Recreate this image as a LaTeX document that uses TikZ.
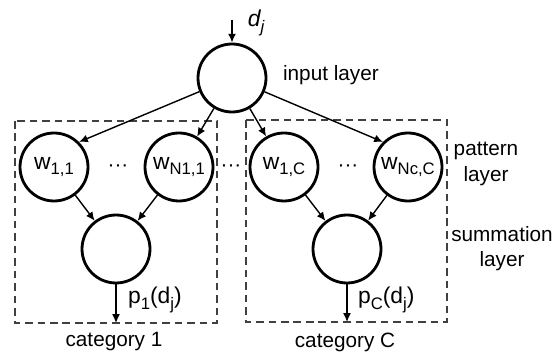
\documentclass[tikz,border=0pt]{standalone}
\usepackage{fontspec}
\setmainfont{Liberation Sans}
\usetikzlibrary{positioning,calc,arrows,arrows.meta}
\tikzset{font=\fontsize{11.8}{14.3}\selectfont}
\newcommand{\lowsub}[1]{\raisebox{-0.45ex}{\fontsize{9.5}{10}\selectfont #1}}

\begin{document}
\begin{tikzpicture}[x=0.02cm, y=-0.02cm, >={Latex[length=5pt,width=4.5pt]}]
	\useasboundingbox (0,0) rectangle (554,354);
	\begin{scope}
		\tikzstyle{every node}=[align=center, inner sep=1pt]
		\tikzstyle{neuron}=[circle, draw, line width=1.6pt, minimum size=1.36cm, font=\fontsize{13}{13}\selectfont]
		\tikzstyle{group}=[draw=black!75, dash pattern=on 4.3pt off 2.8pt, line width=1.1pt]
		\tikzstyle{link}=[->, line width=0.8pt]

		% category boxes
		\draw[group] (15,121) rectangle (217,323);
		\draw[group] (246,120) rectangle (447,322);

		\node[neuron] (in) at (232,78) {};
		\node[neuron] (w11) at (54,167) {w\lowsub{1,1}};
		\node[neuron] (wn1) at (179,167) {w\lowsub{N1,1}};
		\node[neuron] (w1c) at (284,167) {w\lowsub{1,C}};
		\node[neuron] (wnc) at (408,167) {w\lowsub{Nc,C}};
		\node[neuron] (s1) at (116,249) {};
		\node[neuron] (sc) at (347,249) {};

		\node (dots1) at (118,168) {···};
		\node (dots2) at (231,168) {···};
		\node (dots3) at (348,168) {···};

		\node[anchor=west] (inlabel) at (281,75) {input layer};
		\node (patlabel) at (486,164) {pattern\\layer};
		\node (sumlabel) at (502,249) {summation\\layer};
		\node (cat1) at (114,342) {category 1};
		\node (catc) at (345,342) {category C};

		\coordinate (src) at (232,20);
		\coordinate (out1) at (116,323);
		\coordinate (outc) at (347,322);
		\node[font=\fontsize{13}{13}\selectfont\itshape] (dj) at (256,23) {d\lowsub{j}};
		\node[anchor=west, font=\fontsize{13}{13}\selectfont] (p1) at (126,300) {p\lowsub{1}(d\lowsub{j})};
		\node[anchor=west, font=\fontsize{13}{13}\selectfont] (pc) at (356,300) {p\lowsub{C}(d\lowsub{j})};

		\draw[link] (src) -- (in);
		\draw[link] (in) -- (w11.north east);
		\draw[link] (in) -- (wn1);
		\draw[link] (in) -- (w1c);
		\draw[link] (in) -- (wnc.north west);
		\draw[link] (w11) -- (s1);
		\draw[link] (wn1) -- (s1);
		\draw[link] (w1c) -- (sc);
		\draw[link] (wnc) -- (sc);
		\draw[link] (s1) -- (out1);
		\draw[link] (sc) -- (outc);
	\end{scope}
\end{tikzpicture}
\end{document}
